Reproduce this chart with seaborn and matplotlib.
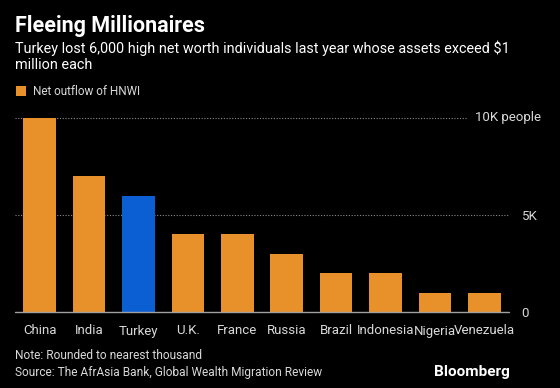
import matplotlib
matplotlib.use("Agg")
import matplotlib.pyplot as plt
import matplotlib.transforms as mtransforms
from matplotlib.patches import Rectangle
import pandas as pd
import seaborn as sns

countries = ['China', 'India', 'Turkey', 'U.K.', 'France', 'Russia', 'Brazil',
             'Indonesia', 'Nigeria', 'Venezuela']
outflow = [10000, 7000, 6000, 4000, 4000, 3000, 2000, 2000, 1000, 1000]
highlight = 'Turkey'

ORANGE = '#e8912b'
BLUE = '#0b5fd2'
GRID = '#8a8a8a'
TEXT = '#d9d9d9'

df = pd.DataFrame({'country': countries, 'outflow': outflow})
palette = {c: (BLUE if c == highlight else ORANGE) for c in countries}

sns.set_style('dark')
plt.rcParams['font.family'] = ['Roboto', 'DejaVu Sans']

fig = plt.figure(figsize=(5.6, 3.88), dpi=100, facecolor='black')
ax = fig.add_axes([15 / 560, 1 - 312 / 388, 494 / 560, 194 / 388])
ax.set_facecolor('black')

sns.barplot(data=df, x='country', y='outflow', hue='country', palette=palette,
            width=0.66, saturation=1, legend=False, ax=ax, zorder=3,
            edgecolor='none', linewidth=0)

ax.set_xlim(-0.5, len(countries) - 0.5)
ax.set_ylim(0, 10000)

# dotted gridlines
ax.axhline(5000, color=GRID, lw=0.8, ls=(0, (1, 1.5)), zorder=1)
ax.axhline(10000, xmax=0.915, color=GRID, lw=0.8, ls=(0, (1, 1.5)), zorder=1, clip_on=False)
ax.axhline(0, color='#a0a0a0', lw=1, zorder=4, clip_on=False)

for s in ax.spines.values():
    s.set_visible(False)
ax.grid(False)

ax.yaxis.tick_right()
ax.set_yticks([0, 5000])
ax.set_yticklabels(['0', '5K'])
ax.tick_params(axis='y', length=0, pad=9, labelsize=9.5, labelcolor=TEXT)
ax.tick_params(axis='x', length=4, width=0.8, color='#a0a0a0', direction='out',
               pad=5, labelsize=9.5, labelcolor=TEXT)
ax.set_xlabel('')
ax.set_ylabel('')

trans = mtransforms.blended_transform_factory(ax.transAxes, ax.transData)
ax.text(0.932, 10000, '10K people', transform=trans, color=TEXT, fontsize=9.5,
        va='center', ha='left')

# titles
fig.text(15 / 560, 1 - 32 / 388, 'Fleeing Millionaires', color='white',
         fontsize=15.5, fontweight='bold', ha='left', va='baseline')
fig.text(15 / 560, 1 - 53 / 388,
         'Turkey lost 6,000 high net worth individuals last year whose assets exceed $1',
         color='white', fontsize=10.4, ha='left', va='baseline')
fig.text(15 / 560, 1 - 69 / 388, 'million each', color='white', fontsize=10.4,
         ha='left', va='baseline')

# legend
fig.patches.append(Rectangle((16 / 560, 1 - 96 / 388), 10 / 560, 10 / 388,
                             transform=fig.transFigure, facecolor=ORANGE,
                             edgecolor='none'))
fig.text(33 / 560, 1 - 95 / 388, 'Net outflow of HNWI', color=TEXT, fontsize=8.5,
         ha='left', va='baseline')

# footer
fig.text(15 / 560, 1 - 359 / 388, 'Note: Rounded to nearest thousand', color=TEXT,
         fontsize=8.6, ha='left', va='baseline')
fig.text(15 / 560, 1 - 376 / 388,
         'Source: The AfrAsia Bank, Global Wealth Migration Review', color=TEXT,
         fontsize=8.6, ha='left', va='baseline')
fig.text(510 / 560, 1 - 376 / 388, 'Bloomberg', color='white', fontsize=11,
         fontweight='bold', ha='right', va='baseline')

fig.savefig('out.png', dpi=100, facecolor='black')
